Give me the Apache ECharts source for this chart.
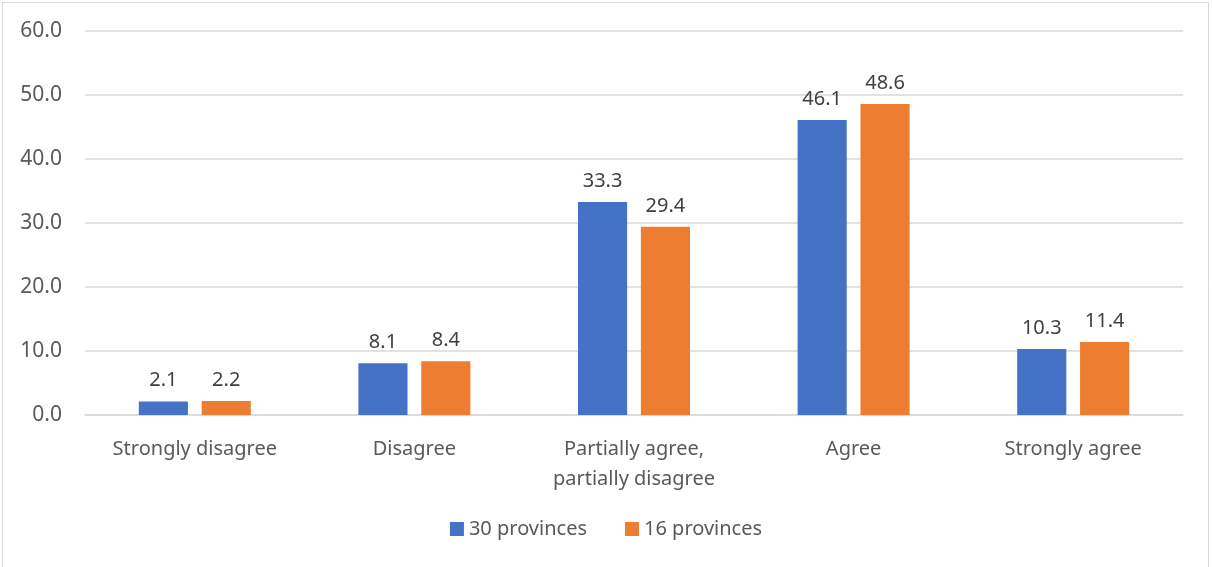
<!DOCTYPE html>
<html>
<head>
<meta charset="utf-8">
<script src="https://cdn.jsdelivr.net/npm/echarts@6/dist/echarts.min.js"></script>
<style>
html, body { margin: 0; padding: 0; background: #fff; }
#chart1 { width: 1212px; height: 567px; }
</style>
</head>
<body>
<div id="chart1"></div>
<script>
var categories = ['Strongly disagree', 'Disagree', 'Partially agree,\npartially disagree', 'Agree', 'Strongly agree'];
var seriesNames = ['30 provinces', '16 provinces'];
var values30 = [2.1, 8.1, 33.3, 46.1, 10.3];
var values16 = [2.2, 8.4, 29.4, 48.6, 11.4];
var yTicks = { min: 0, max: 60, interval: 10 };

var chart1 = echarts.init(document.getElementById('chart1'));
var font = '"Noto Sans", "Open Sans", sans-serif';

var labelStyle = {
	show: true,
	position: 'top',
	distance: 11,
	color: '#404040',
	fontSize: 20,
	fontFamily: font,
	formatter: function (p) {
		return p.value.toFixed(1);
	}
};

var option = {
	backgroundColor: '#ffffff',
	animation: false,
	graphic: [{
		type: 'rect',
		shape: { x: 2.5, y: 2.5, width: 1206, height: 580 },
		style: { fill: 'none', stroke: '#d9d9d9', lineWidth: 1 },
		silent: true
	}],
	grid: {
		left: 85,
		right: 29,
		top: 31,
		bottom: 152
	},
	legend: {
		bottom: 23,
		left: 'center',
		itemWidth: 14,
		itemHeight: 14,
		itemGap: 38,
		itemTextGap: 6,
		icon: 'rect',
		data: seriesNames,
		textStyle: {
			color: '#595959',
			fontSize: 20,
			fontFamily: font
		}
	},
	xAxis: {
		type: 'category',
		data: categories,
		axisTick: { show: false },
		axisLine: {
			lineStyle: { color: '#d9d9d9', width: 1.5 }
		},
		axisLabel: {
			color: '#595959',
			fontSize: 20,
			fontFamily: font,
			margin: 19,
			lineHeight: 30,
			interval: 0
		}
	},
	yAxis: {
		type: 'value',
		min: yTicks.min,
		max: yTicks.max,
		interval: yTicks.interval,
		axisLine: { show: false },
		axisTick: { show: false },
		splitLine: {
			lineStyle: { color: '#d9d9d9', width: 1.5 }
		},
		axisLabel: {
			color: '#595959',
			fontSize: 21,
			fontFamily: font,
			margin: 23,
			formatter: function (v) {
				return v.toFixed(1);
			}
		}
	},
	series: [{
		name: seriesNames[0],
		type: 'bar',
		data: values30,
		barGap: '28%',
		barCategoryGap: '49%',
		itemStyle: { color: '#4472c4' },
		label: labelStyle
	}, {
		name: seriesNames[1],
		type: 'bar',
		data: values16,
		barGap: '28%',
		barCategoryGap: '49%',
		itemStyle: { color: '#ed7d31' },
		label: labelStyle
	}]
};

chart1.setOption(option);
</script>
</body>
</html>
